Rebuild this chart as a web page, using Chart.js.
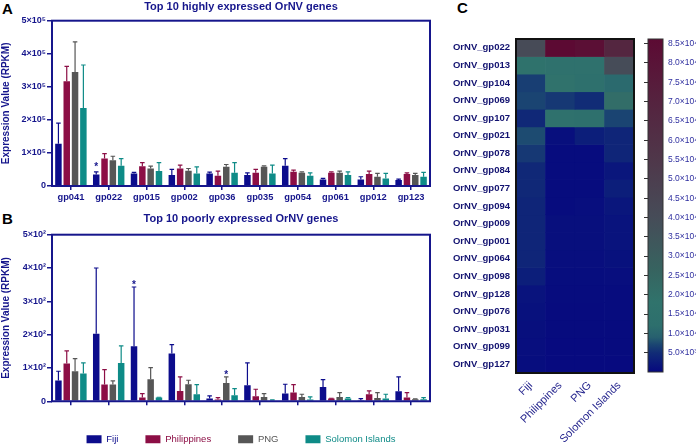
<!DOCTYPE html>
<html>
<head>
<meta charset="utf-8">
<title>OrNV gene expression</title>
<script src="https://cdn.jsdelivr.net/npm/chart.js@4.4.1/dist/chart.umd.min.js"></script>
<style>
  html, body { margin: 0; padding: 0; background: #fff; }
  body { width: 696px; height: 446px; overflow: hidden; position: relative; }
  canvas { position: absolute; }
  .tag { position: absolute; font: bold 15px "Liberation Sans", Arial, sans-serif; line-height: 15px; color: #000; }
</style>
</head>
<body>
<div class="tag" style="left:2px; top:1px">A</div>
<div class="tag" style="left:2px; top:211px">B</div>
<div class="tag" style="left:457px; top:0px">C</div>
<canvas id="highChart" width="440" height="205" style="left:0; top:0"></canvas>
<canvas id="lowChart" width="440" height="249" style="left:0; top:205px"></canvas>
<canvas id="heatChart" width="200" height="446" style="left:440px; top:0"></canvas>
<canvas id="scaleChart" width="56" height="446" style="left:640px; top:0"></canvas>
<script>
Chart.defaults.font.family = '"Liberation Sans", Arial, sans-serif';
Chart.defaults.animation = false;

const navy = '#16168c';
const countries = ['Fiji', 'Philippines', 'PNG', 'Solomon Islands'];
const countryColors = ['#0c0c8c', '#8c0e45', '#565656', '#0e8b87'];

// A - highly expressed genes (RPKM)
const genesHigh = ['gp041', 'gp022', 'gp015', 'gp002', 'gp036', 'gp035', 'gp054', 'gp061', 'gp012', 'gp123'];
const fijiHigh = [128000, 35000, 38000, 33000, 38000, 33000, 61000, 20000, 20000, 18000];
const fijiHighErr = [62000, 8000, 3000, 17000, 4000, 7000, 22000, 3000, 8000, 3000];
const philHigh = [317000, 83000, 60000, 53000, 31000, 40000, 43000, 40000, 36000, 36000];
const philHighErr = [45000, 15000, 11000, 10000, 14000, 10000, 5000, 3000, 9000, 4000];
const pngHigh = [345000, 78000, 53000, 46000, 58000, 58000, 40000, 40000, 28000, 33000];
const pngHighErr = [91000, 12000, 7000, 7000, 7000, 3000, 3000, 5000, 10000, 5000];
const solHigh = [236000, 61000, 45000, 38000, 40000, 38000, 31000, 33000, 23000, 28000];
const solHighErr = [130000, 22000, 26000, 20000, 31000, 25000, 9000, 10000, 15000, 13000];
const yTicksHigh = [0, 100000, 200000, 300000, 400000, 500000];
const yLabelsHigh = ['0', '1×10⁵', '2×10⁵', '3×10⁵', '4×10⁵', '5×10⁵'];
const starsHigh = [[0, 1]];

// B - poorly expressed genes (RPKM)
const genesLow = ['gp043', 'gp049', 'gp099', 'gp065', 'gp127', 'gp111', 'gp110', 'gp048', 'gp112', 'gp100'];
const fijiLow = [62, 203, 165, 143, 8, 48, 23, 43, 3, 30];
const fijiLowErr = [28, 197, 178, 27, 8, 67, 28, 22, 5, 43];
const philLow = [113, 50, 11, 31, 5, 15, 26, 8, 21, 11];
const philLowErr = [38, 45, 12, 42, 6, 21, 24, 1, 10, 15];
const pngLow = [90, 50, 66, 51, 55, 13, 13, 13, 10, 6];
const pngLowErr = [38, 11, 35, 12, 18, 10, 8, 13, 16, 1];
const solLow = [83, 115, 11, 21, 18, 2, 5, 8, 8, 6];
const solLowErr = [32, 51, 1, 29, 20, 2, 8, 3, 13, 5];
const yTicksLow = [0, 100, 200, 300, 400, 500];
const yLabelsLow = ['0', '1×10²', '2×10²', '3×10²', '4×10²', '5×10²'];
const starsLow = [[0, 2], [2, 4]];

// C - heatmap
const heatGenes = ['OrNV_gp022', 'OrNV_gp013', 'OrNV_gp104', 'OrNV_gp069', 'OrNV_gp107', 'OrNV_gp021', 'OrNV_gp078',
  'OrNV_gp084', 'OrNV_gp077', 'OrNV_gp094', 'OrNV_gp009', 'OrNV_gp001', 'OrNV_gp064', 'OrNV_gp098', 'OrNV_gp128',
  'OrNV_gp076', 'OrNV_gp031', 'OrNV_gp099', 'OrNV_gp127'];
const heatFiji = [41000, 16000, 6500, 7000, 4500, 7500, 6000, 4500, 4500, 4000, 4000, 4000, 4000, 3000, 1500, 1200, 1000, 800, 700];
const heatPhilippines = [86000, 15000, 17000, 6000, 15000, 1000, 500, 500, 500, 500, 1000, 1000, 900, 700, 500, 400, 400, 300, 300];
const heatPNG = [83000, 15000, 13000, 5000, 14000, 3000, 500, 500, 500, 800, 1000, 1000, 900, 700, 500, 400, 400, 300, 300];
const heatSolomon = [68000, 40000, 11000, 21000, 7000, 4000, 4000, 2000, 3000, 2000, 1500, 1500, 1200, 800, 600, 500, 400, 400, 300];
const scaleMin = 0;
const scaleMax = 86200;
const scaleTicks = [5000, 10000, 15000, 20000, 25000, 30000, 35000, 40000, 45000, 50000, 55000, 60000, 65000, 70000, 75000, 80000, 85000];
const scaleLabels = ['5.0×10³', '1.0×10⁴', '1.5×10⁴', '2.0×10⁴', '2.5×10⁴', '3.0×10⁴', '3.5×10⁴', '4.0×10⁴', '4.5×10⁴',
  '5.0×10⁴', '5.5×10⁴', '6.0×10⁴', '6.5×10⁴', '7.0×10⁴', '7.5×10⁴', '8.0×10⁴', '8.5×10⁴'];

// colour map of the heatmap (value, colour)
const colorStops = [[0, '#06087f'], [2500, '#0b1a7b'], [5000, '#112c76'], [7000, '#1a4472'], [9000, '#27606f'],
  [12000, '#2d6f6d'], [18000, '#30736c'], [26000, '#366460'], [40000, '#464c58'], [55000, '#4f374a'],
  [70000, '#55233f'], [86200, '#5c0a33']];

function hexRgb(h) {
  return [parseInt(h.slice(1, 3), 16), parseInt(h.slice(3, 5), 16), parseInt(h.slice(5, 7), 16)];
}

function heatColor(v) {
  for (let i = 1; i < colorStops.length; i++) {
    if (v <= colorStops[i][0]) {
      const [v0, c0] = colorStops[i - 1];
      const [v1, c1] = colorStops[i];
      const t = (v - v0) / (v1 - v0);
      const a = hexRgb(c0), b = hexRgb(c1);
      return 'rgb(' + a.map((x, k) => Math.round(x + (b[k] - x) * t)).join(',') + ')';
    }
  }
  return colorStops[colorStops.length - 1][1];
}

const errorBars = {
  id: 'errorBars',
  afterDatasetsDraw(chart, args, opts) {
    const ctx = chart.ctx;
    const yScale = chart.scales.y;
    chart.data.datasets.forEach((ds, d) => {
      chart.getDatasetMeta(d).data.forEach((bar, i) => {
        const top = yScale.getPixelForValue(ds.data[i] + ds.errors[i]);
        ctx.save();
        ctx.strokeStyle = ds.backgroundColor;
        ctx.lineWidth = 1.2;
        ctx.beginPath();
        ctx.moveTo(bar.x, bar.y);
        ctx.lineTo(bar.x, top);
        ctx.moveTo(bar.x - bar.width * 0.35, top);
        ctx.lineTo(bar.x + bar.width * 0.35, top);
        ctx.stroke();
        ctx.restore();
      });
    });
    // significance marks
    (opts.stars || []).forEach(([d, i]) => {
      const ds = chart.data.datasets[d];
      const bar = chart.getDatasetMeta(d).data[i];
      const top = yScale.getPixelForValue(ds.data[i] + ds.errors[i]);
      ctx.save();
      ctx.fillStyle = navy;
      ctx.font = 'bold 10px "Liberation Sans", Arial, sans-serif';
      ctx.textAlign = 'center';
      ctx.fillText('*', bar.x, top - 2);
      ctx.restore();
    });
  }
};

const frame = {
  id: 'frame',
  afterDraw(chart, args, opts) {
    const a = chart.chartArea;
    const ctx = chart.ctx;
    ctx.save();
    ctx.strokeStyle = opts.color;
    ctx.lineWidth = opts.width;
    ctx.strokeRect(a.left, a.top, a.right - a.left, a.bottom - a.top);
    ctx.restore();
  }
};

function expressionChart(id, title, genes, values, errors, yTicks, yLabels, stars, titlePad, xHeight, legend) {
  return new Chart(document.getElementById(id), {
    type: 'bar',
    data: {
      labels: genes,
      datasets: countries.map((name, k) => ({
        label: name,
        data: values[k],
        errors: errors[k],
        backgroundColor: countryColors[k],
        borderWidth: 0,
        barPercentage: 0.78,
        categoryPercentage: 0.88
      }))
    },
    plugins: [errorBars, frame],
    options: {
      responsive: false,
      layout: { padding: { left: 0, right: 10, top: 0, bottom: 0 } },
      plugins: {
        title: { display: true, text: title, fullSize: false, color: navy, font: { size: 11, weight: 'bold' }, padding: titlePad },
        legend: legend,
        tooltip: { enabled: false },
        errorBars: { stars: stars },
        frame: { color: navy, width: 2 }
      },
      scales: {
        x: {
          border: { display: false },
          grid: { offset: false, drawOnChartArea: false, tickLength: 4, color: navy, lineWidth: 1.5 },
          ticks: { color: navy, font: { size: 9.3, weight: 'bold' }, padding: 2, maxRotation: 0, autoSkip: false },
          afterFit: scale => { scale.height = xHeight; }
        },
        y: {
          min: yTicks[0],
          max: yTicks[yTicks.length - 1],
          border: { display: false },
          grid: { drawOnChartArea: false, tickLength: 5, color: navy, lineWidth: 1.5 },
          afterBuildTicks: axis => { axis.ticks = yTicks.map(v => ({ value: v })); },
          afterFit: scale => { scale.width = 52; },
          ticks: { color: navy, font: { size: 9, weight: 'bold' }, padding: 1, callback: (v, i) => yLabels[i] },
          title: { display: true, text: 'Expression Value (RPKM)', color: navy, font: { size: 10, weight: 'bold' }, padding: { top: 0, bottom: 0 } }
        }
      }
    }
  });
}

expressionChart('highChart', 'Top 10 highly expressed OrNV genes', genesHigh,
  [fijiHigh, philHigh, pngHigh, solHigh], [fijiHighErr, philHighErr, pngHighErr, solHighErr],
  yTicksHigh, yLabelsHigh, starsHigh, { top: 0, bottom: 7.5 }, 19, { display: false });

expressionChart('lowChart', 'Top 10 poorly expressed OrNV genes', genesLow,
  [fijiLow, philLow, pngLow, solLow], [fijiLowErr, philLowErr, pngLowErr, solLowErr],
  yTicksLow, yLabelsLow, starsLow, { top: 7.5, bottom: 9 }, 6.25, {
    display: true,
    position: 'bottom',
    fullSize: false,
    labels: {
      boxWidth: 15, boxHeight: 8, padding: 27, font: { size: 9.5 },
      generateLabels: chart => chart.data.datasets.map((ds, i) => ({
        text: ds.label, fillStyle: ds.backgroundColor, strokeStyle: ds.backgroundColor,
        lineWidth: 0, fontColor: ds.backgroundColor, hidden: false, datasetIndex: i
      }))
    }
  });

// heatmap: one floating bar per gene row, stacked down each country column
const heatColumns = [heatFiji, heatPhilippines, heatPNG, heatSolomon];
new Chart(document.getElementById('heatChart'), {
  type: 'bar',
  data: {
    labels: countries,
    datasets: heatGenes.map((g, r) => ({
      label: g,
      data: countries.map(() => [r, r + 1]),
      backgroundColor: heatColumns.map(col => heatColor(col[r])),
      borderWidth: 0,
      grouped: false,
      barPercentage: 1,
      categoryPercentage: 1
    }))
  },
  plugins: [frame],
  options: {
    responsive: false,
    layout: { padding: { left: 0, right: 6, top: 39, bottom: 0 } },
    plugins: {
      legend: { display: false },
      tooltip: { enabled: false },
      frame: { color: '#111', width: 2 }
    },
    scales: {
      x: {
        border: { display: false },
        grid: { display: false, drawTicks: false },
        ticks: { color: '#26268e', font: { size: 11 }, minRotation: 45, maxRotation: 45, padding: 6 },
        afterFit: scale => { scale.height = 73; }
      },
      y: {
        min: 0,
        max: heatGenes.length,
        reverse: true,
        border: { display: false },
        grid: { display: false, drawTicks: false },
        afterBuildTicks: axis => { axis.ticks = heatGenes.map((g, r) => ({ value: r + 0.5 })); },
        afterFit: scale => { scale.width = 76; },
        ticks: { color: '#121270', font: { size: 9.5, weight: 'bold' }, padding: 6, autoSkip: false, callback: (v, i) => heatGenes[i] }
      }
    }
  }
});

// colour bar
new Chart(document.getElementById('scaleChart'), {
  type: 'bar',
  data: {
    labels: ['scale'],
    datasets: [{
      data: [[scaleMin, scaleMax]],
      backgroundColor: c => {
        const chart = c.chart;
        if (!chart.chartArea) return null;
        const ys = chart.scales.y;
        const g = chart.ctx.createLinearGradient(0, ys.getPixelForValue(scaleMin), 0, ys.getPixelForValue(scaleMax));
        colorStops.forEach(([v, col]) => g.addColorStop((v - scaleMin) / (scaleMax - scaleMin), col));
        return g;
      },
      borderWidth: 0,
      barPercentage: 1,
      categoryPercentage: 1
    }]
  },
  plugins: [frame],
  options: {
    responsive: false,
    layout: { padding: { left: 4, right: 0, top: 39, bottom: 74 } },
    plugins: {
      legend: { display: false },
      tooltip: { enabled: false },
      frame: { color: '#333', width: 1 }
    },
    scales: {
      x: { display: false },
      y: {
        position: 'right',
        min: scaleMin,
        max: scaleMax,
        border: { display: false },
        grid: { display: false, drawTicks: false },
        afterBuildTicks: axis => { axis.ticks = scaleTicks.map(v => ({ value: v })); },
        afterFit: scale => { scale.width = 33; },
        ticks: { color: '#3030a0', font: { size: 8.5 }, padding: 5, autoSkip: false, callback: (v, i) => scaleLabels[i] }
      },
      y2: {
        position: 'left',
        min: scaleMin,
        max: scaleMax,
        border: { display: false },
        grid: { drawOnChartArea: false, tickLength: 4, color: '#333' },
        afterBuildTicks: axis => { axis.ticks = scaleTicks.map(v => ({ value: v })); },
        afterFit: scale => { scale.width = 4; },
        ticks: { display: false }
      }
    }
  }
});
</script>
</body>
</html>
